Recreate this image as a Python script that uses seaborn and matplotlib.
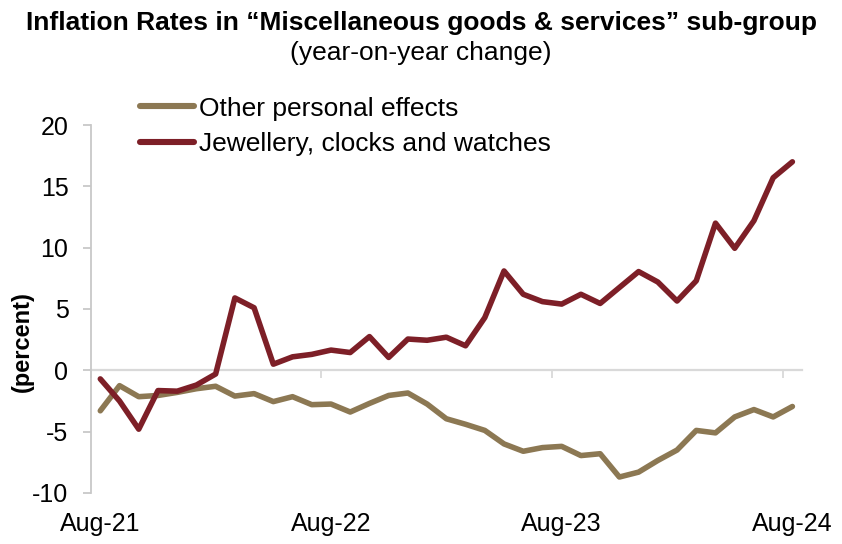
import numpy as np
import pandas as pd
import matplotlib
matplotlib.use("Agg")
import matplotlib.pyplot as plt
import seaborn as sns

# Monthly year-on-year inflation, Aug-2021 .. Aug-2024
months = pd.date_range("2021-08-01", "2024-08-01", freq="MS").strftime("%b-%y").tolist()

other_personal = [-3.3, -1.25, -2.15, -2.05, -1.8, -1.5, -1.3, -2.1, -1.9, -2.55,
                  -2.15, -2.8, -2.75, -3.4, -2.7, -2.05, -1.85, -2.75, -3.95, -4.4,
                  -4.9, -6.0, -6.6, -6.3, -6.2, -6.95, -6.8, -8.7, -8.3, -7.35,
                  -6.5, -4.9, -5.1, -3.8, -3.2, -3.8, -2.95]
jewellery = [-0.7, -2.5, -4.8, -1.65, -1.7, -1.2, -0.3, 5.9, 5.1, 0.5,
             1.1, 1.3, 1.65, 1.45, 2.75, 1.05, 2.55, 2.45, 2.7, 2.0,
             4.3, 8.1, 6.2, 5.6, 5.4, 6.2, 5.45, 6.75, 8.05, 7.2,
             5.65, 7.3, 12.0, 9.95, 12.2, 15.7, 17.0]

series_names = ["Other personal effects", "Jewellery, clocks and watches"]
colors = ["#8C7853", "#7D1F27"]
y_ticks = [-10, -5, 0, 5, 10, 15, 20]
x_labels = ["Aug-21", "Aug-22", "Aug-23", "Aug-24"]

df = pd.DataFrame({
    "pos": list(range(len(months))) * 2,
    "month": months * 2,
    "value": other_personal + jewellery,
    "series": [series_names[0]] * len(months) + [series_names[1]] * len(months),
})

sns.set_theme(style="white")
plt.rcParams["font.family"] = ["Liberation Sans", "DejaVu Sans"]
plt.rcParams["text.color"] = "black"
plt.rcParams["axes.labelcolor"] = "black"
plt.rcParams["xtick.color"] = "black"
plt.rcParams["ytick.color"] = "black"

fig = plt.figure(figsize=(8.42, 5.44), dpi=100)
ax = fig.add_axes([0.1077, 0.0938, 0.9525 - 0.1077, 0.7702 - 0.0938])

sns.lineplot(data=df, x="pos", y="value", hue="series", hue_order=series_names,
             palette=colors, linewidth=4.0, sort=False, ax=ax,
             solid_joinstyle="round", solid_capstyle="round")

ax.set_xlim(-0.5, len(months) - 0.5)
ax.set_ylim(-10, 20)
ax.set_yticks(y_ticks)
ax.set_yticklabels([str(v) for v in y_ticks])

axis_grey = "#C8C8C8"
for side in ["top", "right"]:
    ax.spines[side].set_visible(False)
ax.spines["left"].set_color(axis_grey)
ax.spines["left"].set_linewidth(1.3)
ax.spines["bottom"].set_position(("data", 0))
ax.spines["bottom"].set_color("#D9D9D9")
ax.spines["bottom"].set_linewidth(1.6)
ax.spines["bottom"].set_zorder(0.5)

# year boundary ticks on the zero line
ax.set_xticks([-0.5, 11.5, 23.5, 35.5])
ax.tick_params(axis="x", length=6, width=1.3, color="#D9D9D9", direction="out",
               labelbottom=False, bottom=True)
ax.tick_params(axis="y", length=6, width=1.3, color=axis_grey, direction="out",
               labelsize=18, labelcolor="black", pad=10, left=True)
ax.set_xlabel("")
ax.set_ylabel("")

# month labels along the bottom edge
sec = ax.secondary_xaxis("bottom")
sec.set_xticks([0, 12, 24, 36])
sec.set_xticklabels(x_labels)
sec.tick_params(axis="x", length=0, labelsize=18, labelcolor="black", pad=14)
sec.spines["bottom"].set_visible(False)

fig.text(0.026, 1 - 342 / 544, "(percent)", rotation=90, ha="center", va="center",
         fontsize=17, fontweight="bold")

fig.text(0.5, 1 - 23 / 544,
         "Inflation Rates in \u201cMiscellaneous goods & services\u201d sub-group",
         ha="center", va="center", fontsize=19, fontweight="bold")
fig.text(0.5, 1 - 53 / 544, "(year-on-year change)", ha="center", va="center",
         fontsize=19)

handles, labels = ax.get_legend_handles_labels()
for h in handles:
    h.set_linewidth(4.4)
ax.legend(handles, labels, loc="center left",
          bbox_to_anchor=(140 / 842, 1 - 126.5 / 544), bbox_transform=fig.transFigure,
          frameon=False, fontsize=19, handlelength=2.05, handletextpad=0.2,
          labelspacing=0.45, borderpad=0, borderaxespad=0)

fig.savefig("out.png", dpi=100)
